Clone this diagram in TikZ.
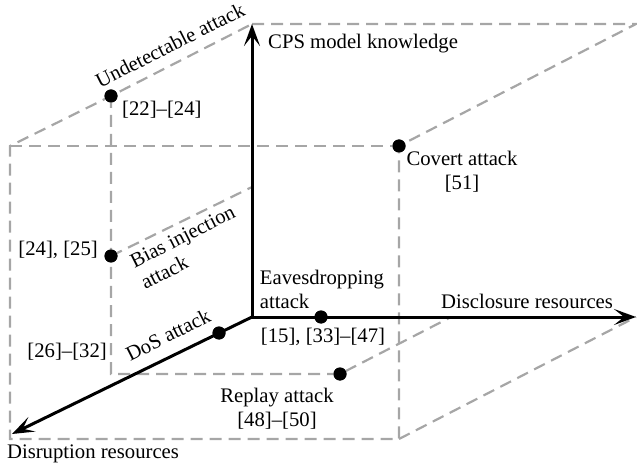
\documentclass[tikz,border=0pt]{standalone}
\usepackage{fontspec}
\setmainfont{Liberation Serif}
\usetikzlibrary{arrows.meta}
\definecolor{dashgray}{HTML}{A6A6A6}
\begin{document}
\begin{tikzpicture}[x=1pt,y=-1pt,
  every node/.style={font=\fontsize{20.7}{24}\selectfont, inner sep=0pt},
  guide/.style={draw=dashgray, line width=2.2pt, dash pattern=on 12pt off 7pt},
  axis/.style={draw=black, line width=3pt, -{Stealth[length=22pt,width=16pt,inset=10pt]}},
  dot/.style={circle, fill=black, minimum size=13pt, inner sep=0pt},
  lbl/.style={text=black}]
\useasboundingbox (0,0) rectangle (637,470);
% corners
\coordinate (O) at (252,317);
\coordinate (zt) at (252,24);
\coordinate (xt) at (636,317);
\coordinate (yt) at (12,434);
\coordinate (tbr) at (636,24);
\coordinate (ftl) at (10,146);
\coordinate (fbl) at (10,439);
\coordinate (fbr) at (399,439);
\coordinate (mid) at (111,374);
\coordinate (xr) at (451,317);
\coordinate (zb) at (252,187);
% dots (positions)
\node[dot] (undet) at (111,96) {};
\node[dot] (covert) at (399,146) {};
\node[dot] (bias) at (111,256) {};
\node[dot] (dos) at (219,333) {};
\node[dot] (eaves) at (321,317) {};
\node[dot] (replay) at (340,374) {};
% dashed cube
\draw[guide] (zt) -- (tbr) -- (covert.center) -- (fbr) -- (fbl) -- (ftl) -- (undet.center) -- (zt);
\draw[guide] (ftl) -- (covert.center);
\draw[guide] (fbr) -- (xt);
\draw[guide] (undet.center) -- (mid) -- (replay.center) -- (xr);
\draw[guide] (bias.center) -- (zb);
% axes
\draw[axis] (O) -- (zt);
\draw[axis] (O) -- (xt);
\draw[axis] (O) -- (yt);
% dots on top
\foreach \n in {undet,covert,bias,dos,eaves,replay} \fill (\n) circle (6.5pt);
% labels
\node[lbl, anchor=west] (lz) at (268,44) {CPS model knowledge};
\node[lbl] (lx) at (527,301) {Disclosure resources};
\node[lbl] (ly) at (93,454) {Disruption resources};
\node[lbl, rotate=26.8] (lundet) at (170,45) {Undetectable attack};
\node[lbl, anchor=west] (rundet) at (122,110) {[22]–[24]};
\node[lbl, align=center] (lcovert) at (462,172) {Covert attack\\{}[51]};
\node[lbl, anchor=east] (rbias) at (98,250) {[24], [25]};
\node[lbl, rotate=26.8, align=left] (lbias) at (188,247) {Bias injection\\attack};
\node[lbl, align=left] (leaves) at (322,289) {Eavesdropping\\attack};
\node[lbl] (reaves) at (323,337) {[15], [33]–[47]};
\node[lbl, rotate=26.8] (ldos) at (168,335) {DoS attack};
\node[lbl, anchor=east] (rdos) at (107,352) {[26]–[32]};
\node[lbl, align=center] (lreplay) at (277,409) {Replay attack\\{}[48]–[50]};
\end{tikzpicture}
\end{document}
